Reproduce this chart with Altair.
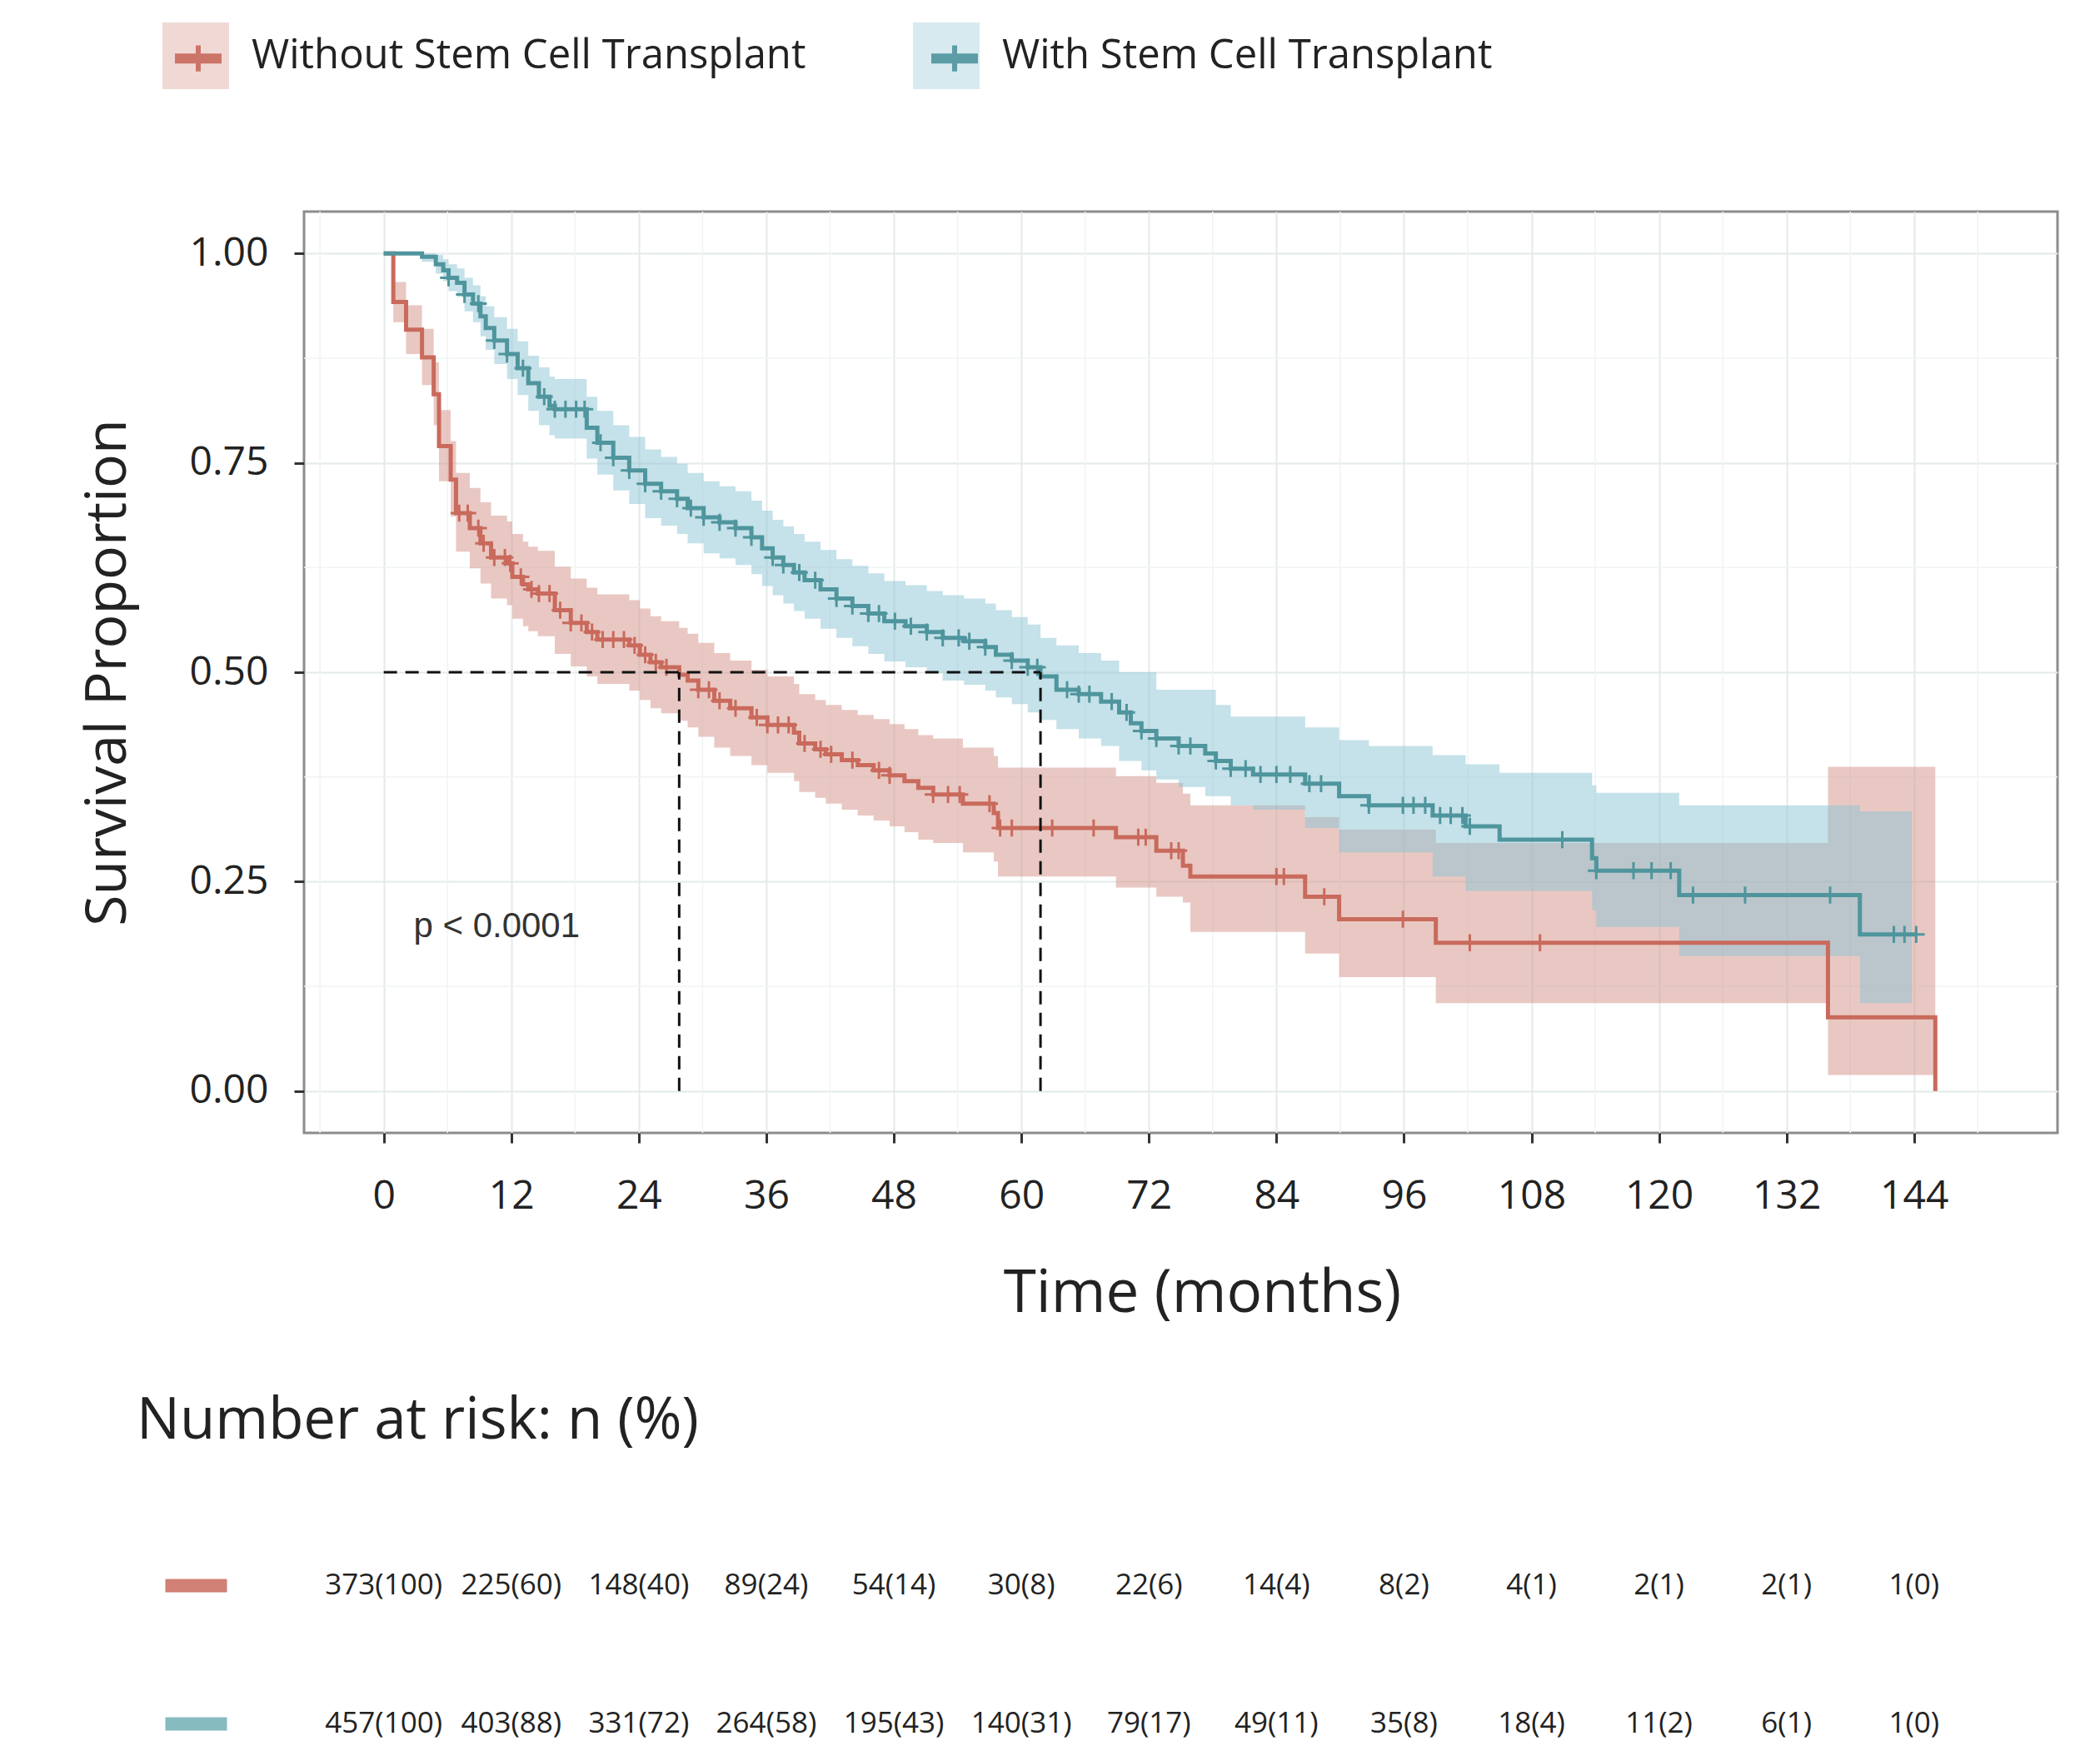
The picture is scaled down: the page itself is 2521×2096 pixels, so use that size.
import altair as alt
import pandas as pd

FONT = "Open Sans"
P_FONT = "Liberation Sans"

groups = ["Without Stem Cell Transplant", "With Stem Cell Transplant"]
group_codes = ["A", "B"]
line_colors = ["#C96A5C", "#4F959D"]
band_colors = ["#D39187", "#8BC3D3"]
risk_colors = ["#D08075", "#86BBC0"]

# ---- Kaplan-Meier curve: Without Stem Cell Transplant ----
red_t = [0, 0.9, 2.1, 3.6, 4.7, 5.2, 6.3, 6.8, 8.1, 9.1,
         10.1, 11.6, 12.1, 13.1, 13.6, 14.5, 16.1, 17.6, 19.1, 20.1,
         23.1, 24.1, 25.1, 26.1, 27.8, 28.6, 29.6, 31.1, 32.6, 34.6,
         36.1, 38.6, 39.1, 40.6, 41.6, 43.1, 44.6, 46.1, 47.6, 49.0,
         50.3, 51.7, 54.5, 57.4, 57.8, 68.9, 72.7, 75.2, 75.9, 86.7,
         89.9, 99.0, 135.9]
red_s = [1.0, 0.942, 0.909, 0.876, 0.832, 0.770, 0.730, 0.690, 0.672, 0.654,
         0.637, 0.630, 0.614, 0.605, 0.599, 0.594, 0.574, 0.559, 0.548, 0.539,
         0.532, 0.521, 0.512, 0.506, 0.497, 0.490, 0.479, 0.466, 0.457, 0.446,
         0.437, 0.428, 0.415, 0.408, 0.402, 0.395, 0.389, 0.383, 0.377, 0.370,
         0.362, 0.354, 0.343, 0.332, 0.314, 0.303, 0.287, 0.269, 0.256, 0.232,
         0.205, 0.177, 0.088]
red_lo = [1.0, 0.918, 0.880, 0.843, 0.795, 0.728, 0.686, 0.644, 0.624, 0.606,
          0.588, 0.580, 0.564, 0.555, 0.549, 0.543, 0.522, 0.507, 0.495, 0.486,
          0.478, 0.467, 0.457, 0.451, 0.442, 0.434, 0.423, 0.410, 0.400, 0.389,
          0.380, 0.370, 0.357, 0.350, 0.343, 0.336, 0.329, 0.323, 0.316, 0.309,
          0.300, 0.296, 0.285, 0.274, 0.256, 0.243, 0.232, 0.225, 0.190, 0.164,
          0.136, 0.105, 0.019]
red_hi = [1.0, 0.966, 0.938, 0.910, 0.870, 0.813, 0.776, 0.738, 0.720, 0.703,
          0.687, 0.680, 0.665, 0.656, 0.650, 0.645, 0.626, 0.612, 0.601, 0.593,
          0.586, 0.576, 0.567, 0.561, 0.553, 0.546, 0.535, 0.523, 0.514, 0.503,
          0.495, 0.486, 0.474, 0.467, 0.461, 0.455, 0.449, 0.444, 0.438, 0.432,
          0.425, 0.421, 0.410, 0.400, 0.386, 0.376, 0.368, 0.355, 0.341, 0.327,
          0.312, 0.296, 0.387]
red_end = 146.0
red_end_s = 0.0
red_cens = [7.1, 7.9, 8.9, 9.4, 10.4, 11.4, 11.9, 12.9, 13.9, 14.6, 15.6, 16.6,
            17.6, 18.6, 19.6, 20.6, 21.6, 22.6, 23.6, 24.6, 25.6, 26.6, 29.6,
            30.6, 31.6, 33.1, 35.1, 36.1, 37.1, 38.1, 39.6, 41.1, 42.1, 44.1,
            46.6, 47.6, 51.7, 53.1, 54.2, 57.0, 58.0, 59.1, 62.9, 66.8, 71.0,
            71.7, 74.1, 74.8, 84.0, 84.7, 88.5, 95.9, 102.2, 108.8]

# ---- Kaplan-Meier curve: With Stem Cell Transplant ----
teal_t = [0, 3.6, 4.9, 5.6, 6.1, 6.9, 7.6, 8.4, 9.1, 9.6,
          10.4, 11.6, 12.6, 13.6, 14.6, 15.6, 16.1, 19.1, 20.1, 21.6,
          23.1, 24.6, 26.1, 27.6, 28.6, 30.1, 31.6, 33.1, 34.6, 35.6,
          36.6, 37.6, 38.6, 39.6, 41.1, 42.6, 44.1, 45.6, 47.1, 49.1,
          51.1, 52.6, 54.6, 56.6, 57.6, 59.1, 60.6, 61.8, 63.3, 65.4,
          67.5, 69.2, 70.3, 71.3, 72.7, 74.8, 77.3, 78.3, 79.7, 81.8,
          86.7, 89.9, 92.7, 98.7, 101.8, 105.0, 113.7, 114.1, 121.9, 138.9]
teal_s = [1.0, 0.996, 0.987, 0.980, 0.971, 0.965, 0.951, 0.940, 0.925, 0.911,
          0.896, 0.880, 0.863, 0.845, 0.829, 0.818, 0.814, 0.792, 0.774, 0.756,
          0.741, 0.725, 0.716, 0.707, 0.696, 0.685, 0.679, 0.672, 0.661, 0.648,
          0.637, 0.628, 0.619, 0.610, 0.599, 0.588, 0.579, 0.570, 0.561, 0.555,
          0.548, 0.541, 0.537, 0.530, 0.521, 0.514, 0.506, 0.495, 0.479, 0.474,
          0.465, 0.452, 0.439, 0.430, 0.421, 0.412, 0.403, 0.394, 0.385, 0.378,
          0.367, 0.352, 0.341, 0.329, 0.316, 0.300, 0.278, 0.263, 0.234, 0.187]
teal_lo = [1.0, 0.990, 0.976, 0.967, 0.955, 0.948, 0.931, 0.918, 0.901, 0.885,
           0.868, 0.850, 0.831, 0.812, 0.795, 0.783, 0.779, 0.755, 0.736, 0.717,
           0.701, 0.684, 0.675, 0.665, 0.654, 0.642, 0.636, 0.628, 0.617, 0.603,
           0.592, 0.582, 0.573, 0.564, 0.552, 0.541, 0.531, 0.522, 0.513, 0.506,
           0.499, 0.490, 0.485, 0.478, 0.470, 0.462, 0.452, 0.443, 0.432, 0.421,
           0.412, 0.394, 0.394, 0.383, 0.372, 0.363, 0.352, 0.352, 0.341, 0.336,
           0.314, 0.285, 0.285, 0.256, 0.239, 0.239, 0.216, 0.196, 0.161, 0.105]
teal_hi = [1.0, 1.0, 0.998, 0.993, 0.987, 0.982, 0.971, 0.962, 0.949, 0.937,
           0.924, 0.910, 0.895, 0.878, 0.864, 0.853, 0.850, 0.829, 0.812, 0.795,
           0.781, 0.766, 0.757, 0.749, 0.738, 0.728, 0.722, 0.716, 0.705, 0.693,
           0.682, 0.674, 0.665, 0.656, 0.646, 0.635, 0.627, 0.618, 0.609, 0.604,
           0.597, 0.592, 0.588, 0.582, 0.574, 0.566, 0.557, 0.541, 0.532, 0.523,
           0.514, 0.500, 0.500, 0.500, 0.479, 0.479, 0.479, 0.461, 0.447, 0.447,
           0.434, 0.419, 0.412, 0.401, 0.390, 0.380, 0.365, 0.356, 0.341, 0.334]
teal_end = 144.3
teal_band_end = 143.8
teal_cens = [6.1, 7.6, 8.9, 10.4, 11.6, 13.1, 15.1, 16.1, 17.1, 18.1, 18.9, 20.4,
             21.6, 23.1, 24.6, 26.1, 27.6, 28.9, 30.1, 31.6, 33.1, 34.6, 36.6,
             37.6, 39.1, 40.6, 42.6, 44.1, 45.6, 46.6, 48.1, 49.6, 51.1, 52.6,
             54.1, 55.1, 56.6, 59.1, 60.6, 61.5, 64.3, 65.4, 66.4, 68.5, 69.9,
             71.3, 72.7, 74.8, 75.9, 78.3, 79.7, 81.1, 82.5, 84.0, 85.3, 87.1,
             88.2, 92.7, 95.9, 96.9, 98.0, 99.4, 100.4, 101.5, 102.2, 110.9,
             114.1, 117.6, 119.3, 121.1, 123.2, 128.1, 136.1, 142.1, 143.1, 144.2]

medians = [27.8, 61.8]
median_level = 0.5
p_text = ["p < 0.0001"]
p_pos_t = [2.8]
p_pos_s = [0.197]

major_x = list(range(0, 145, 12))
minor_x = [-6] + [6 + 12 * i for i in range(13)]
major_y = [0.0, 0.25, 0.5, 0.75, 1.0]
minor_y = [0.125, 0.375, 0.625, 0.875]

risk_times = [0, 12, 24, 36, 48, 60, 72, 84, 96, 108, 120, 132, 144]
risk_without = ["373(100)", "225(60)", "148(40)", "89(24)", "54(14)", "30(8)", "22(6)",
                "14(4)", "8(2)", "4(1)", "2(1)", "2(1)", "1(0)"]
risk_with = ["457(100)", "403(88)", "331(72)", "264(58)", "195(43)", "140(31)", "79(17)",
             "49(11)", "35(8)", "18(4)", "11(2)", "6(1)", "1(0)"]


# ---------------- data tables ----------------
def step_value(ts, ss, t):
    v = ss[0]
    for ti, si in zip(ts, ss):
        if ti <= t:
            v = si
    return v


curve_rows, band_rows, cens_rows = [], [], []
specs = [
    (groups[0], group_codes[0], red_t, red_s, red_lo, red_hi, red_end, red_end_s, red_end, red_cens),
    (groups[1], group_codes[1], teal_t, teal_s, teal_lo, teal_hi, teal_end, teal_s[-1], teal_band_end, teal_cens),
]
for g, code, ts, ss, los, his, tend, send, bend, cens in specs:
    for t, s in zip(ts, ss):
        curve_rows.append({"t": t, "s": s, "grp": code})
    curve_rows.append({"t": tend, "s": send, "grp": code})
    for t, lo, hi in zip(ts, los, his):
        band_rows.append({"t": t, "lo": lo, "hi": hi, "group": g})
    band_rows.append({"t": bend, "lo": los[-1], "hi": his[-1], "group": g})
    for c in cens:
        cens_rows.append({"t": c, "s": step_value(ts, ss, c), "grp": code})

curve_df = pd.DataFrame(curve_rows)
band_df = pd.DataFrame(band_rows)
cens_df = pd.DataFrame(cens_rows)
minor_x_df = pd.DataFrame({"t": minor_x})
minor_y_df = pd.DataFrame({"s": minor_y})
med_h_df = pd.DataFrame({"t": [0], "t2": [max(medians)], "s": [median_level]})
med_v_df = pd.DataFrame({"t": medians, "s": [0.0] * len(medians), "s2": [median_level] * len(medians)})
p_df = pd.DataFrame({"t": p_pos_t, "s": p_pos_s, "label": p_text})
risk_df = pd.DataFrame({
    "t": risk_times + risk_times,
    "group": [groups[0]] * len(risk_times) + [groups[1]] * len(risk_times),
    "label": risk_without + risk_with,
})

# ---------------- scales / axes ----------------
W, H = 2105, 1106
xscale = alt.Scale(domain=[-7.5, 157.5], nice=False, zero=False)
yscale = alt.Scale(domain=[-0.05, 1.05], nice=False, zero=False)

xaxis = alt.Axis(
    values=major_x, title="Time (months)", grid=True, gridColor="#E4EAEA", gridWidth=2,
    domain=False, ticks=True, tickColor="#333333", tickWidth=3, tickSize=12,
    labelFont=FONT, labelFontSize=48, labelColor="#222222", labelPadding=78,
    labelBaseline="alphabetic", labelOverlap=False,
    titleFont=FONT, titleFontSize=71, titleFontWeight="normal", titleColor="#222222",
    titleX=1078, titleY=214, titleBaseline="alphabetic", titleAlign="center",
)
yaxis = alt.Axis(
    values=major_y, format=".2f", title="Survival Proportion", grid=True,
    gridColor="#E4EAEA", gridWidth=2, domain=False, ticks=True, tickColor="#333333",
    tickWidth=3, tickSize=12, labelFont=FONT, labelFontSize=48, labelColor="#222222",
    labelPadding=31, labelOverlap=False,
    titleFont=FONT, titleFontSize=68, titleFontWeight="normal", titleColor="#222222",
    titleX=-215, titleY=553, titleBaseline="alphabetic", titleAlign="center",
)

sq_legend = alt.Legend(
    title=None, orient="none", legendX=-170, legendY=-227, direction="horizontal",
    symbolType="square", symbolSize=6400, symbolOpacity=0.35, symbolStrokeWidth=0,
    labelFont=FONT, labelFontSize=49, labelColor="#222222", labelOffset=27,
    labelLimit=2000, columnPadding=128, padding=0, zindex=1,
)
cross_legend = alt.Legend(
    title=None, orient="none", legendX=-170, legendY=-227, direction="horizontal",
    symbolType="M-0.625,-0.075H0.625V0.075H-0.625Z M0,-0.39V0.39",
    symbolSize=6400, symbolStrokeWidth=6, symbolOpacity=0.9,
    labelExpr="''", labelFontSize=1, labelOffset=0,
    columnPadding=822, padding=0, zindex=2,
)

fill_enc = alt.Fill("group:N", scale=alt.Scale(domain=groups, range=band_colors), legend=sq_legend)
color_enc = alt.Color("grp:N", scale=alt.Scale(domain=group_codes, range=line_colors), legend=cross_legend)

minor_v = alt.Chart(minor_x_df).mark_rule(color="#F1F4F4", strokeWidth=1.5).encode(
    x=alt.X("t:Q", scale=xscale, axis=xaxis)
)
minor_h = alt.Chart(minor_y_df).mark_rule(color="#F1F4F4", strokeWidth=1.5).encode(
    y=alt.Y("s:Q", scale=yscale, axis=yaxis)
)

band_base = alt.Chart(band_df).mark_area(interpolate="step-after", fillOpacity=0.5).encode(
    x=alt.X("t:Q", scale=xscale, axis=xaxis),
    y=alt.Y("lo:Q", scale=yscale, axis=yaxis),
    y2="hi:Q",
    fill=fill_enc,
)
band_red = band_base.transform_filter(alt.datum.group == groups[0])
band_teal = band_base.transform_filter(alt.datum.group == groups[1])

lines = alt.Chart(curve_df).mark_line(interpolate="step-after", strokeWidth=5).encode(
    x=alt.X("t:Q", scale=xscale, axis=xaxis),
    y=alt.Y("s:Q", scale=yscale, axis=yaxis),
    color=color_enc,
)
cens = alt.Chart(cens_df).mark_point(
    shape="M-1,0H1M0,-1V1", size=420, strokeWidth=3, filled=False, opacity=1
).encode(
    x=alt.X("t:Q", scale=xscale, axis=xaxis),
    y=alt.Y("s:Q", scale=yscale, axis=yaxis),
    color=color_enc,
)

med_h = alt.Chart(med_h_df).mark_rule(color="#111111", strokeWidth=3, strokeDash=[16, 10]).encode(
    x=alt.X("t:Q", scale=xscale, axis=xaxis), x2="t2:Q",
    y=alt.Y("s:Q", scale=yscale, axis=yaxis),
)
med_v = alt.Chart(med_v_df).mark_rule(color="#111111", strokeWidth=3, strokeDash=[16, 10]).encode(
    x=alt.X("t:Q", scale=xscale, axis=xaxis),
    y=alt.Y("s:Q", scale=yscale, axis=yaxis), y2="s2:Q",
)
ptxt = alt.Chart(p_df).mark_text(
    align="left", baseline="middle", font=P_FONT, fontSize=42, color="#333333"
).encode(
    x=alt.X("t:Q", scale=xscale, axis=xaxis),
    y=alt.Y("s:Q", scale=yscale, axis=yaxis),
    text="label:N",
)

main = alt.layer(minor_v, minor_h, band_red, band_teal, lines, cens, med_h, med_v, ptxt).properties(
    width=W, height=H,
    view=alt.ViewBackground(stroke="#8C8C8C", strokeWidth=3, fill="white"),
)

risk = alt.Chart(risk_df).mark_text(font=FONT, fontSize=35, color="#222222").encode(
    x=alt.X("t:Q", scale=xscale, axis=None),
    y=alt.Y(
        "group:N",
        scale=alt.Scale(type="point", padding=0.1, domain=groups),
        axis=alt.Axis(
            title=None, labels=False, domain=False, grid=False, ticks=True,
            tickSize=74, tickWidth=16, offset=93,
            tickColor={
                "condition": {"test": "datum.value === '%s'" % groups[0], "value": risk_colors[0]},
                "value": risk_colors[1],
            },
        ),
    ),
    text="label:N",
).properties(
    width=W, height=200,
    title=alt.TitleParams(
        text="Number at risk: n (%)", anchor="start", frame="group", dx=-201, offset=90,
        baseline="alphabetic", font=FONT, fontSize=69, fontWeight="normal", color="#222222",
    ),
    view=alt.ViewBackground(stroke="transparent"),
)

chart = alt.vconcat(main, risk, spacing=526, bounds="flush").properties(
    padding={"left": 86, "top": 19, "right": 40, "bottom": 5},
).configure(background="white")

chart.save("out.html", embed_options={"renderer": "svg", "actions": False})
